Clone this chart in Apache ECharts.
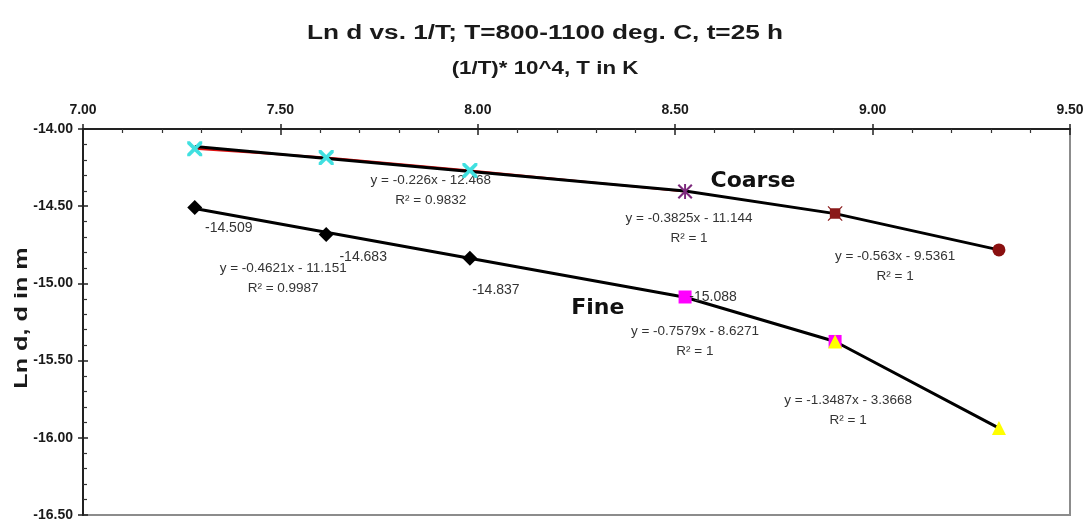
<!DOCTYPE html>
<html>
<head>
<meta charset="utf-8">
<style>
  html, body { margin: 0; padding: 0; background: #fff; }
  #chart { width: 1092px; height: 524px; }
</style>
<script src="https://cdn.jsdelivr.net/npm/echarts@6/dist/echarts.min.js"></script>
</head>
<body>
<div id="chart"></div>
<script>
// (1/T)*10^4 for T = 1100 ... 800 deg C
const invT = [7.283, 7.616, 7.980, 8.525, 8.905, 9.320]

// measured Ln d
const coarseLnD = [-14.128, -14.185, -14.268, -14.405, -14.548, -14.783]
const fineLnD = [-14.509, -14.683, -14.837, -15.088, -15.376, -15.937]

// black trend segments (null = no break point there)
const coarseTrend = [-14.113, null, null, -14.402, -14.548, -14.783]
const fineTrend = [-14.515, null, null, -15.090, -15.376, -15.937]

const fineValueLabels = ['-14.509', '-14.683', '-14.837', '-15.088', null, null]

const xTicks = { min: 7.0, max: 9.5, step: 0.5 }
const yTicks = { min: -16.5, max: -14.0, step: 0.5 }

const fitTexts = [
  'y = -0.226x - 12.468\nR² = 0.9832',
  'y = -0.3825x - 11.144\nR² = 1',
  'y = -0.563x - 9.5361\nR² = 1',
  'y = -0.4621x - 11.151\nR² = 0.9987',
  'y = -0.7579x - 8.6271\nR² = 1',
  'y = -1.3487x - 3.3668\nR² = 1'
]
// where each fit note sits, in axis units
const fitAnchors = [
  [7.881, -14.395], [8.535, -14.641], [9.057, -14.887],
  [7.507, -14.965], [8.550, -15.373], [8.938, -15.820]
]
const groupNames = ['Coarse', 'Fine']
const groupAnchors = [[8.697, -14.337], [8.304, -15.159]]

const FONT = 'Arial, "Liberation Sans", sans-serif'
const WIDE = '"DejaVu Sans", sans-serif'

const pairs = (xs, ys, idx) => idx.map(i => [xs[i], ys[i]])
const trendPairs = (ys) => invT.map((x, i) => [x, ys[i]]).filter(p => p[1] !== null)

const xMark = 'path://M0,0L3.5,0L10,6.5L16.5,0L20,0L20,3.5L13.5,10L20,16.5L20,20L16.5,20L10,13.5L3.5,20L0,20L0,16.5L6.5,10L0,3.5Z'
const starMark = 'path://M0,2L2,0L10,8L18,0L20,2L12,10L20,18L18,20L10,12L2,20L0,18L8,10ZM8.7,0L11.3,0L11.3,20L8.7,20Z'
const boxStar = 'path://M3,3L17,3L17,17L3,17ZM0,1L1,0L10,8.5L19,0L20,1L11.5,10L20,19L19,20L10,11.5L1,20L0,19L8.5,10Z'

const chart = echarts.init(document.getElementById('chart'))

const fineLabelOffsets = [[34, 21], [37, 23], [26, 32], [28, 0]]
const plainLabel = { textBorderWidth: 0, textBorderColor: 'transparent', textShadowBlur: 0 }

const boldText = (text, x, y, size, sx, rot) => ({
  type: 'text',
  x, y,
  rotation: rot || 0,
  scaleX: sx,
  silent: true,
  style: {
    text,
    font: `bold ${size}px ${FONT}`,
    fill: '#1a1a1a',
    align: 'center',
    verticalAlign: 'middle'
  }
})

const tickOnly = (extra) => Object.assign({
  type: 'value',
  axisLine: { show: false },
  axisLabel: { show: false },
  splitLine: { show: false },
  axisTick: { inside: false, length: 5, lineStyle: { color: '#222', width: 1.5 } }
}, extra)

const marker = (idx, ys, symbol, size, color, z) => ({
  type: 'scatter',
  data: pairs(invT, ys, idx),
  symbol, symbolSize: size,
  itemStyle: { color, opacity: 1 },
  z: z || 5
})

const option = {
  animation: false,
  graphic: [
    boldText('Ln d vs. 1/T; T=800-1100 deg. C, t=25 h', 545, 33, 20, 1.31),
    boldText('(1/T)* 10^4, T in K', 545, 69, 18, 1.24),
    boldText('Ln d, d in m', 22, 318, 18, 1.4, Math.PI / 2)
  ],
  grid: {
    left: 83, right: 22, top: 129, bottom: 9,
    show: true, borderColor: '#8c8c8c', borderWidth: 2
  },
  xAxis: [{
    type: 'value',
    position: 'top',
    min: xTicks.min, max: xTicks.max, interval: xTicks.step,
    axisLine: { onZero: false, lineStyle: { color: '#222', width: 2 } },
    axisTick: { inside: true, length: 6, lineStyle: { color: '#222', width: 1.5 } },
    minorTick: { show: true, splitNumber: 5, length: 4, lineStyle: { color: '#333', width: 1.2 } },
    axisLabel: {
      margin: 12,
      fontFamily: FONT, fontSize: 14, fontWeight: 'bold', color: '#1a1a1a',
      formatter: v => v.toFixed(2)
    },
    splitLine: { show: false }
  }, tickOnly({ position: 'top', min: xTicks.min, max: xTicks.max, interval: xTicks.step })],
  yAxis: [{
    type: 'value',
    min: yTicks.min, max: yTicks.max, interval: yTicks.step,
    axisLine: { onZero: false, lineStyle: { color: '#222', width: 2 } },
    axisTick: { inside: true, length: 5, lineStyle: { color: '#222', width: 1.5 } },
    minorTick: { show: true, splitNumber: 5, length: 4, lineStyle: { color: '#333', width: 1.2 } },
    axisLabel: {
      margin: 10,
      fontFamily: FONT, fontSize: 14, fontWeight: 'bold', color: '#1a1a1a',
      formatter: v => v.toFixed(2)
    },
    splitLine: { show: false }
  }, tickOnly({ position: 'left', min: yTicks.min, max: yTicks.max, interval: yTicks.step })],
  series: [
    {
      name: 'coarse data',
      type: 'line',
      data: pairs(invT, coarseLnD, [0, 1, 2, 3]),
      symbol: 'none',
      lineStyle: { color: '#e01010', width: 2 },
      z: 2
    },
    {
      name: 'coarse trend',
      type: 'line',
      data: trendPairs(coarseTrend),
      symbol: 'none',
      lineStyle: { color: '#000', width: 3 },
      z: 3
    },
    {
      name: 'fine trend',
      type: 'line',
      data: trendPairs(fineTrend),
      symbol: 'none',
      lineStyle: { color: '#000', width: 3 },
      z: 3
    },
    marker([0, 1, 2], coarseLnD, xMark, 15, '#40e0e0'),
    marker([3], coarseLnD, starMark, 15, '#7d2a7d'),
    marker([4], coarseLnD, boxStar, 15, '#8a1a1a'),
    marker([5], coarseLnD, 'circle', 13, '#8a1010'),
    {
      type: 'scatter',
      data: [0, 1, 2].map(i => ({
        value: [invT[i], fineLnD[i]],
        label: {
          show: true, formatter: fineValueLabels[i],
          position: 'inside', offset: fineLabelOffsets[i]
        }
      })),
      symbol: 'diamond', symbolSize: 15,
      itemStyle: { color: '#000', opacity: 1 },
      label: Object.assign({ fontFamily: FONT, fontSize: 14, color: '#333' }, plainLabel),
      z: 5
    },
    {
      type: 'scatter',
      data: [3, 4].map(i => ({
        value: [invT[i], fineLnD[i]],
        label: fineValueLabels[i] ? {
          show: true, formatter: fineValueLabels[i],
          position: 'inside', offset: fineLabelOffsets[i]
        } : { show: false }
      })),
      symbol: 'rect', symbolSize: 13,
      itemStyle: { color: '#ff00ff', opacity: 1 },
      label: Object.assign({ fontFamily: FONT, fontSize: 14, color: '#333' }, plainLabel),
      z: 5
    },
    marker([4, 5], fineLnD, 'triangle', 14, '#ffff00', 6),
    {
      name: 'fit notes',
      type: 'scatter',
      data: fitAnchors.map((p, i) => ({ value: p, name: fitTexts[i] })),
      symbolSize: 0,
      silent: true,
      itemStyle: { opacity: 1 },
      label: Object.assign({
        show: true, position: 'inside', formatter: p => p.name,
        fontFamily: FONT, fontSize: 13.5, color: '#333', lineHeight: 20, align: 'center'
      }, plainLabel),
      z: 4
    },
    {
      name: 'group names',
      type: 'scatter',
      data: groupAnchors.map((p, i) => ({ value: p, name: groupNames[i] })),
      symbolSize: 0,
      silent: true,
      itemStyle: { opacity: 1 },
      label: Object.assign({
        show: true, position: 'inside', formatter: p => p.name,
        fontFamily: WIDE, fontSize: 22, fontWeight: 'bold', color: '#111'
      }, plainLabel),
      z: 4
    }
  ]
}

chart.setOption(option)
</script>
</body>
</html>
